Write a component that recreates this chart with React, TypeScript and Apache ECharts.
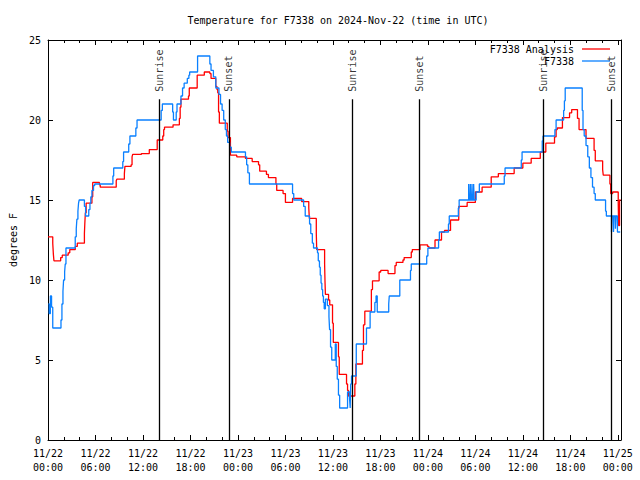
import { useEffect, useRef } from 'react';
import * as echarts from 'echarts';

const FONT = "'DejaVu Sans Mono', 'Liberation Mono', monospace";

const chartTitle = 'Temperature for F7338 on 2024-Nov-22 (time in UTC)';
const yAxisName = 'degrees F';
const seriesNames = ['F7338 Analysis', 'F7338'];
const seriesColors = ['#ff0000', '#0a80ff'];

const xTickLabels = [
  '11/22\n00:00', '11/22\n06:00', '11/22\n12:00', '11/22\n18:00',
  '11/23\n00:00', '11/23\n06:00', '11/23\n12:00', '11/23\n18:00',
  '11/24\n00:00', '11/24\n06:00', '11/24\n12:00', '11/24\n18:00',
  '11/25\n00:00',
];

// [hours since 11/22 00:00 UTC, degrees F]
const analysisReadings: [number, number][] = [
  [0, 12.7], [0.6, 12.3], [0.68, 11.6], [0.75, 11.2], [1.6, 11.4], [1.8, 11.55], [2.55, 11.7], [2.75, 11.9],
  [3.45, 12.1], [3.7, 12.3], [4.6, 12.9], [4.65, 13.5], [4.72, 14.2], [4.82, 14.8], [5.55, 15.2], [5.65, 16.1],
  [6.5, 15.95], [6.6, 15.8], [8.62, 16.2], [8.7, 16.3], [9.65, 16.65], [9.72, 17.1], [10.5, 17.2], [10.62, 17.7],
  [10.7, 17.85], [11.8, 17.9], [12.8, 18.15], [13.8, 18.75], [14.5, 19.0], [14.62, 19.4], [14.72, 19.55], [15.8, 19.7],
  [16.6, 20.1], [16.7, 20.8], [16.8, 21.3], [17.75, 21.5], [17.85, 22.0], [18.85, 22.8], [19.75, 23.0], [20.45, 22.9],
  [20.6, 22.6], [21.2, 22.1], [21.35, 21.9], [21.45, 21.7], [21.55, 20.5], [21.65, 19.8], [22.65, 19.3], [22.75, 18.9],
  [23.05, 17.8], [23.85, 17.7], [24.95, 17.6], [25.8, 17.4], [26.6, 17.2], [26.75, 16.8], [27.6, 16.6], [27.85, 16.4],
  [28.8, 16.0], [28.9, 15.6], [29.7, 15.4], [30.0, 14.85], [30.9, 15.1], [32.05, 14.9], [32.95, 14.5], [33.02, 13.85],
  [33.9, 12.9], [33.95, 11.9], [34.95, 11.0], [35.0, 9.9], [35.05, 9.1], [35.45, 8.75], [35.6, 8.45], [35.95, 7.3],
  [36.05, 6.1], [36.7, 5.2], [36.8, 4.1], [37.72, 3.5], [37.85, 3.1], [37.97, 2.75], [38.77, 3.5], [38.9, 4.75],
  [39.73, 5.6], [39.86, 7.2], [40.03, 8.05], [40.86, 9.4], [41.0, 9.95], [41.84, 10.5], [42.04, 10.6], [42.97, 10.4],
  [43.84, 10.9], [44.0, 11.1], [44.85, 11.25], [45.0, 11.4], [45.9, 11.75], [46.03, 11.9], [47.0, 12.2], [47.95, 12.1],
  [48.13, 12.0], [48.9, 12.5], [49.72, 13.0], [50.1, 13.1], [50.86, 13.75], [51.9, 14.6], [52.96, 14.85], [54.0, 15.5],
  [54.85, 15.8], [56.0, 16.45], [56.9, 16.65], [58.9, 17.0], [60.0, 17.3], [61.05, 17.6], [62.2, 18.0], [62.9, 18.55],
  [64.0, 18.95], [64.2, 19.4], [64.35, 19.5], [65.0, 20.15], [65.9, 20.45], [66.17, 20.65], [66.9, 20.1], [67.1, 19.4],
  [67.98, 18.85], [69.0, 18.1], [69.15, 17.45], [70.08, 16.9], [70.16, 16.55], [71.0, 16.0], [71.1, 15.4], [71.35, 15.5],
  [72.05, 14.8], [72.1, 13.4], [72.22, 15.0], [72.35, 15.0],
];

const obsReadings: [number, number][] = [
  [0.05, 8.5], [0.15, 7.9], [0.3, 9.0], [0.45, 8.3], [0.6, 7.0], [1.64, 7.5], [1.76, 8.5], [1.89, 9.3],
  [1.97, 10.0], [2.1, 10.5], [2.18, 11.0], [2.27, 12.0], [3.44, 12.7], [3.57, 13.2], [3.65, 13.8], [3.78, 14.3],
  [3.86, 14.8], [3.94, 15.0], [4.6, 14.6], [4.75, 14.0], [5.15, 14.4], [5.3, 14.8], [5.41, 15.2], [5.55, 15.6],
  [5.75, 15.9], [5.9, 16.0], [8.2, 16.5], [8.3, 17.0], [9.45, 17.4], [9.55, 18.0], [10.2, 18.5], [10.35, 19.0],
  [11.1, 19.5], [11.25, 20.0], [14.3, 20.6], [14.45, 21.0], [15.75, 20.5], [15.85, 20.0], [16.2, 20.5], [16.3, 21.0],
  [16.8, 21.5], [17.0, 22.0], [17.2, 22.3], [17.6, 22.6], [17.8, 22.8], [17.9, 23.0], [18.9, 24.0], [20.45, 23.5],
  [20.6, 23.1], [20.9, 22.7], [21.2, 22.0], [21.6, 21.6], [21.8, 21.0], [22.0, 20.6], [22.2, 20.0], [22.4, 19.4],
  [22.55, 19.0], [22.7, 18.6], [22.95, 18.3], [23.16, 18.0], [24.95, 17.7], [25.1, 17.2], [25.25, 16.7], [25.45, 16.0],
  [30.9, 15.4], [31.05, 15.0], [32.3, 14.6], [32.5, 14.0], [33.05, 13.5], [33.2, 12.9], [33.4, 12.3], [33.55, 12.0],
  [34.05, 11.7], [34.15, 11.2], [34.3, 10.8], [34.4, 10.3], [34.5, 9.8], [34.6, 9.4], [34.7, 9.0], [34.8, 8.6],
  [34.9, 8.2], [35.05, 8.8], [35.3, 8.4], [35.5, 7.7], [35.58, 6.9], [35.7, 5.8], [35.85, 5.0], [36.3, 6.0],
  [36.42, 4.6], [36.55, 3.8], [36.7, 2.8], [36.85, 2.0], [37.85, 3.0], [38.1, 2.6], [38.18, 2.0], [38.25, 3.5],
  [38.35, 4.0], [38.95, 6.0], [40.24, 7.0], [40.7, 8.0], [41.3, 8.6], [41.45, 9.0], [41.6, 8.0], [43.05, 8.5],
  [43.12, 9.0], [44.45, 10.0], [45.8, 10.6], [45.9, 11.0], [47.85, 11.5], [48.0, 12.0], [49.35, 12.5], [49.45, 13.0],
  [50.6, 13.5], [50.7, 14.0], [51.85, 14.5], [51.95, 15.0], [53.15, 16.0], [53.22, 15.0], [53.36, 16.0], [53.43, 15.0],
  [53.57, 16.0], [53.64, 15.0], [53.78, 16.0], [53.85, 15.0], [54.1, 15.5], [54.5, 16.0], [57.65, 16.5], [57.75, 17.0],
  [59.8, 17.5], [59.9, 18.0], [62.45, 18.7], [62.55, 19.0], [64.05, 19.4], [64.2, 20.0], [65.15, 20.6], [65.25, 21.2],
  [65.35, 22.0], [67.5, 20.6], [67.6, 19.4], [67.75, 19.0], [67.98, 18.4], [68.2, 17.7], [68.4, 17.0], [68.6, 16.4],
  [68.8, 15.8], [69.0, 15.4], [69.15, 15.0], [70.45, 14.3], [70.55, 14.0], [71.2, 13.0], [71.28, 14.0], [71.45, 13.0],
  [71.53, 14.0], [71.7, 13.2], [71.78, 14.0], [71.95, 13.0], [72.3, 13.0],
];

const sunHours = [14.1, 22.85, 38.45, 46.95, 62.6, 71.15];
const sunNames = ['Sunrise', 'Sunset', 'Sunrise', 'Sunset', 'Sunrise', 'Sunset'];
const sunLineTop = 21.3;

const X_MAX = 72.4;

export default function App() {
  const ref = useRef<HTMLDivElement>(null);

  useEffect(() => {
    const chart = echarts.init(ref.current!, null, { renderer: 'svg' });
    const txt = { fontFamily: FONT, fontSize: 10, color: '#000' };
    const axisLine = { show: true, onZero: false, lineStyle: { color: '#000', width: 1 } };
    const xBase: any = {
      type: 'value', min: 0, max: X_MAX, interval: 6,
      axisLine, splitLine: { show: false },
      axisTick: { show: true, inside: true, length: 5, lineStyle: { color: '#000' } },
      minorTick: { show: true, splitNumber: 3, length: 3, lineStyle: { color: '#000' } },
      minorSplitLine: { show: false },
    };
    const yBase: any = {
      type: 'value', min: 0, max: 25, interval: 5,
      axisLine, splitLine: { show: false },
      axisTick: { show: true, inside: true, length: 5, lineStyle: { color: '#000' } },
    };

    chart.setOption({
      animation: false,
      backgroundColor: '#fff',
      title: {
        text: chartTitle, left: 333, top: 10, textAlign: 'center',
        textStyle: { ...txt, fontWeight: 'normal' },
      },
      legend: seriesNames.map((n, i) => ({
        data: [{ name: n, icon: 'rect' }], right: 30, top: 44 + i * 12, orient: 'vertical', align: 'right',
        itemWidth: 28, itemHeight: 1.3, padding: 0, selectedMode: false,
        textStyle: { ...txt, padding: [0, 3, 0, 0] },
      })),
      grid: { left: 46, right: 19, top: 40, bottom: 40 },
      xAxis: [
        {
          ...xBase, position: 'bottom',
          axisLabel: {
            ...txt, margin: 6, lineHeight: 14,
            formatter: (v: number) => {
              const idx = Math.round(v / 6);
              if (Math.abs(v - idx * 6) > 1e-6) return '';
              return xTickLabels[idx] ?? '';
            },
          },
        },
        { ...xBase, position: 'top', axisLabel: { show: false } },
      ],
      yAxis: [
        {
          ...yBase, position: 'left', name: yAxisName, nameLocation: 'middle', nameGap: 30,
          nameRotate: 90, nameTextStyle: txt,
          axisLabel: { ...txt, margin: 7 },
        },
        { ...yBase, position: 'right', axisLabel: { show: false } },
      ],
      series: [
        {
          name: seriesNames[0], type: 'line', step: 'end', data: analysisReadings,
          xAxisIndex: 0, yAxisIndex: 0, symbol: 'none', showSymbol: false,
          color: seriesColors[0], lineStyle: { color: seriesColors[0], width: 1.3 }, z: 2,
        },
        {
          name: seriesNames[1], type: 'line', step: 'end', data: obsReadings,
          xAxisIndex: 0, yAxisIndex: 0, symbol: 'none', showSymbol: false,
          color: seriesColors[1], lineStyle: { color: seriesColors[1], width: 1.3 }, z: 3,
        },
        {
          name: 'sun', type: 'scatter', xAxisIndex: 0, yAxisIndex: 0, silent: true,
          symbolSize: 1, itemStyle: { color: 'rgba(0,0,0,0)' }, z: 4,
          labelLayout: { hideOverlap: false },
          data: sunHours.map((h, i) => ({ value: [h, sunLineTop], name: sunNames[i] })),
          label: {
            show: true, formatter: '{b}', position: 'top', distance: 7, rotate: 90,
            align: 'left', verticalAlign: 'middle', ...txt,
          },
          markLine: {
            silent: true, symbol: ['none', 'none'], label: { show: false }, z: 4,
            lineStyle: { color: '#000', width: 1.3, type: 'solid' },
            emphasis: { disabled: true },
            data: sunHours.map((h) => [{ coord: [h, 0] }, { coord: [h, sunLineTop] }]),
          },
        },
      ],
    });
    return () => chart.dispose();
  }, []);

  return (
    <div
      ref={ref}
      style={{ position: 'absolute', left: 0, top: 0, width: 640, height: 480, background: '#fff' }}
    />
  );
}
